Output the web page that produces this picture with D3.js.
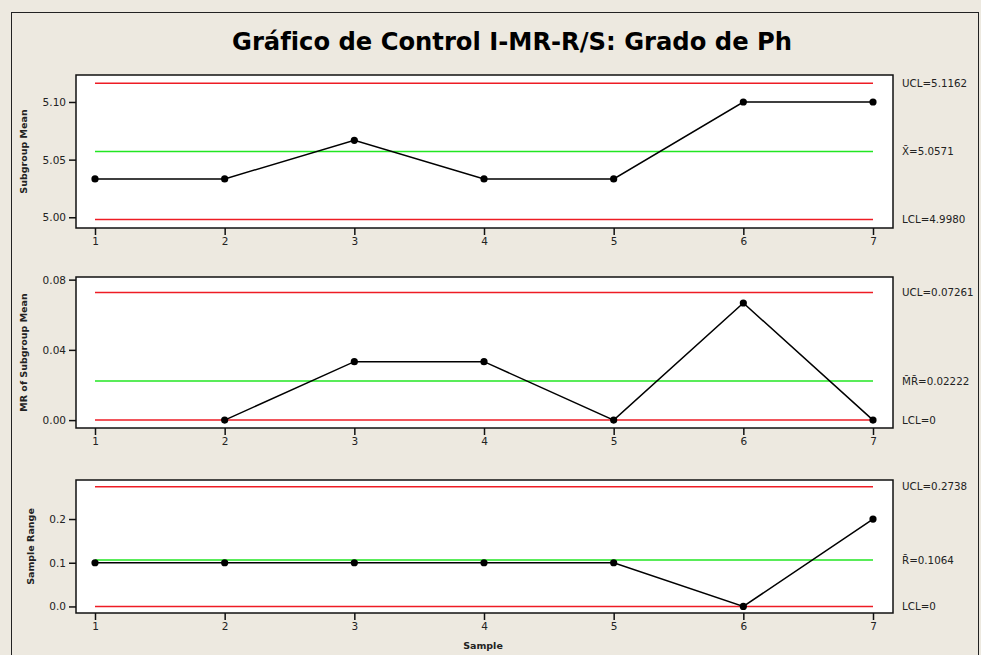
<!DOCTYPE html>
<html lang="es">
  <head>
    <meta charset="UTF-8" />
    <title>Gráfico de Control I-MR-R/S</title>
    <style>
      body { margin: 0; background: #ede9e0; }
      text { font-family: "DejaVu Sans", sans-serif; fill: #222; }
      .tick text { font-size: 10.5px; }
      .tick line, .domain { stroke: #111; }
      .box { fill: #fff; stroke: #111; stroke-width: 1.5px; }
      .data-line { fill: none; stroke: #000; stroke-width: 1.5px; }
      .ucl, .lcl { stroke: #ee1c24; stroke-width: 1.5px; }
      .cl { stroke: #22e622; stroke-width: 1.5px; }
      .limit-label { font-size: 10.3px; }
      .axis-title { font-size: 9.5px; font-weight: bold; }
    </style>
  </head>
  <body>
    <script src="https://cdn.jsdelivr.net/npm/d3@7"></script>
    <script>

      // data
      var samples = [1, 2, 3, 4, 5, 6, 7];

      var meanValues  = [5.0333, 5.0333, 5.0667, 5.0333, 5.0333, 5.1, 5.1];
      var mrValues    = [null, 0, 0.0333, 0.0333, 0, 0.0667, 0];
      var rangeValues = [0.1, 0.1, 0.1, 0.1, 0.1, 0, 0.2];

      // UCL, center line, LCL
      var meanLimits  = [5.1162, 5.0571, 4.9980];
      var mrLimits    = [0.07261, 0.02222, 0];
      var rangeLimits = [0.2738, 0.1064, 0];

      var meanLabels  = ["UCL=5.1162", "X\u0304=5.0571", "LCL=4.9980"];
      var mrLabels    = ["UCL=0.07261", "M\u0304R\u0304=0.02222", "LCL=0"];
      var rangeLabels = ["UCL=0.2738", "R\u0304=0.1064", "LCL=0"];

      var meanTicks  = [5.00, 5.05, 5.10];
      var mrTicks    = [0, 0.04, 0.08];
      var rangeTicks = [0, 0.1, 0.2];

      var meanDomain  = [4.9907, 5.1234];
      var mrDomain    = [-0.0045, 0.0815];
      var rangeDomain = [-0.015, 0.2893];

      var w = 981, h = 655;

      var svg = d3.select("body").append("svg")
        .attr("width", w)
        .attr("height", h);

      // outer frame
      svg.append("rect")
        .attr("x", 11.5).attr("y", 12.5)
        .attr("width", 967).attr("height", 660)
        .attr("fill", "#ede9e0")
        .attr("stroke", "#222")
        .attr("stroke-width", 1);

      svg.append("text")
        .attr("x", 512)
        .attr("y", 50)
        .attr("text-anchor", "middle")
        .attr("textLength", 560)
        .attr("lengthAdjust", "spacingAndGlyphs")
        .style("font-size", "24px")
        .style("font-weight", "bold")
        .style("fill", "#000")
        .text("Gráfico de Control I-MR-R/S: Grado de Ph");

      var boxLeft = 76, boxRight = 893;

      var xScale = d3.scaleLinear()
        .domain([1, 7])
        .range([95, 873]);

      var panels = [
        { top: 75,  bottom: 228, values: meanValues,  limits: meanLimits,  labels: meanLabels,
          ticks: meanTicks,  domain: meanDomain,  fmt: ".2f", title: "Subgroup Mean", titleX: 24 },
        { top: 277, bottom: 428, values: mrValues,    limits: mrLimits,    labels: mrLabels,
          ticks: mrTicks,    domain: mrDomain,    fmt: ".2f", title: "MR of Subgroup Mean", titleX: 24 },
        { top: 480, bottom: 613, values: rangeValues, limits: rangeLimits, labels: rangeLabels,
          ticks: rangeTicks, domain: rangeDomain, fmt: ".1f", title: "Sample Range", titleX: 31 }
      ];

      var limitClass = ["ucl", "cl", "lcl"];

      panels.forEach(function(p) {

        var yScale = d3.scaleLinear()
          .domain(p.domain)
          .range([p.bottom, p.top]);

        var g = svg.append("g");

        g.append("rect")
          .attr("class", "box")
          .attr("x", boxLeft)
          .attr("y", p.top)
          .attr("width", boxRight - boxLeft)
          .attr("height", p.bottom - p.top);

        // control limits
        g.selectAll(".limit")
          .data(p.limits)
          .enter()
          .append("line")
          .attr("class", function(d, i) { return limitClass[i]; })
          .attr("x1", xScale(1))
          .attr("x2", xScale(7))
          .attr("y1", function(d) { return yScale(d); })
          .attr("y2", function(d) { return yScale(d); });

        g.selectAll(".limit-label")
          .data(p.limits)
          .enter()
          .append("text")
          .attr("class", "limit-label")
          .attr("x", boxRight + 9)
          .attr("y", function(d) { return yScale(d); })
          .attr("dy", "0.35em")
          .text(function(d, i) { return p.labels[i]; });

        var pts = samples.map(function(s, i) { return { s: s, v: p.values[i] }; })
          .filter(function(d) { return d.v !== null; });

        var line = d3.line()
          .x(function(d) { return xScale(d.s); })
          .y(function(d) { return yScale(d.v); });

        g.append("path")
          .datum(pts)
          .attr("class", "data-line")
          .attr("d", line);

        g.selectAll("circle")
          .data(pts)
          .enter()
          .append("circle")
          .attr("cx", function(d) { return xScale(d.s); })
          .attr("cy", function(d) { return yScale(d.v); })
          .attr("r", 3.6)
          .attr("fill", "#000");

        var yAxis = d3.axisLeft(yScale)
          .tickValues(p.ticks)
          .tickFormat(d3.format(p.fmt))
          .tickSize(7)
          .tickSizeOuter(0);

        var yg = g.append("g")
          .attr("transform", "translate(" + boxLeft + ",0)")
          .call(yAxis);
        yg.select(".domain").remove();

        var xAxis = d3.axisBottom(xScale)
          .tickValues(samples)
          .tickFormat(d3.format("d"))
          .tickSize(7)
          .tickSizeOuter(0);

        var xg = g.append("g")
          .attr("transform", "translate(0," + p.bottom + ")")
          .call(xAxis);
        xg.select(".domain").remove();
        xg.selectAll(".tick line").attr("stroke-width", 1.5);
        yg.selectAll(".tick line").attr("stroke-width", 1.5);

        g.append("text")
          .attr("class", "axis-title")
          .attr("transform", "translate(" + p.titleX + "," + ((p.top + p.bottom) / 2) + ") rotate(-90)")
          .attr("text-anchor", "middle")
          .attr("dy", "0.35em")
          .text(p.title);
      });

      svg.append("text")
        .attr("class", "axis-title")
        .attr("x", 483)
        .attr("y", 649)
        .attr("text-anchor", "middle")
        .text("Sample");

    </script>
  </body>
</html>
